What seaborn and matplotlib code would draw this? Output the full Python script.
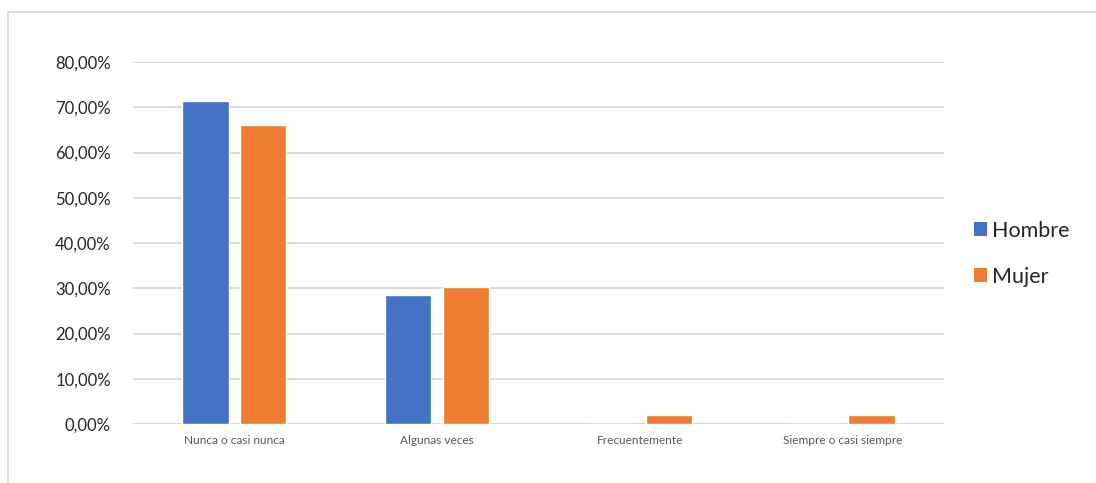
import matplotlib
matplotlib.use("Agg")
import matplotlib.pyplot as plt
from matplotlib.lines import Line2D
from matplotlib.patches import Patch
from matplotlib.ticker import FuncFormatter
import seaborn as sns
import pandas as pd

categories = ["Nunca o casi nunca", "Algunas veces", "Frecuentemente", "Siempre o casi siempre"]
series = ["Hombre", "Mujer"]
hombre = [71.43, 28.57, 0.0, 0.0]
mujer = [66.04, 30.19, 1.89, 1.89]
y_ticks = [0, 10, 20, 30, 40, 50, 60, 70, 80]

colors = {"Hombre": "#4472C4", "Mujer": "#ED7D31"}

df = pd.DataFrame({
    "categoria": categories * 2,
    "serie": ["Hombre"] * len(categories) + ["Mujer"] * len(categories),
    "valor": hombre + mujer,
})

sns.set_theme(style="white")
plt.rcParams["font.family"] = ["Lato", "DejaVu Sans"]

fig = plt.figure(figsize=(10.96, 4.83), dpi=100)
ax = fig.add_axes([133 / 1096, 1 - 424 / 483, (944 - 133) / 1096, (424 - 62) / 483])

sns.barplot(data=df, x="categoria", y="valor", hue="serie", order=categories,
            hue_order=series, palette=colors, width=0.571, gap=0.2,
            saturation=1, ax=ax, legend=False, zorder=3)

ax.set_ylim(0, 80)
ax.set_xlim(-0.5, len(categories) - 0.5)
ax.set_yticks(y_ticks)
ax.yaxis.set_major_formatter(FuncFormatter(lambda v, p: f"{v:.2f}%".replace(".", ",")))
ax.grid(axis="y", color="#D9D9D9", linewidth=1.3, zorder=0)
ax.set_axisbelow(True)
for s in ax.spines.values():
    s.set_visible(False)
ax.axhline(0, color="#D9D9D9", linewidth=1.3, zorder=1)
ax.set_xlabel("")
ax.set_ylabel("")
ax.tick_params(axis="y", length=0, pad=16, labelsize=12, labelcolor="#262626")
ax.tick_params(axis="x", length=0, pad=8, labelsize=8.6, labelcolor="#595959")

handles = [Patch(facecolor=colors[s], edgecolor="none") for s in series]
fig.legend(handles, series, loc="upper left", bbox_to_anchor=(963 / 1096, 1 - 210 / 483),
           frameon=False, fontsize=15.5, handlelength=0.6, handleheight=0.6,
           handletextpad=0.25, labelspacing=1.2, borderpad=0, labelcolor="#262626")

# chart frame (top and left edges)
fig.add_artist(Line2D([8 / 1096, 1], [1 - 12 / 483, 1 - 12 / 483], color="#D9D9D9",
                      linewidth=1.2, transform=fig.transFigure))
fig.add_artist(Line2D([8 / 1096, 8 / 1096], [0, 1 - 12 / 483], color="#D9D9D9",
                      linewidth=1.2, transform=fig.transFigure))

fig.savefig("out.png", dpi=100)
